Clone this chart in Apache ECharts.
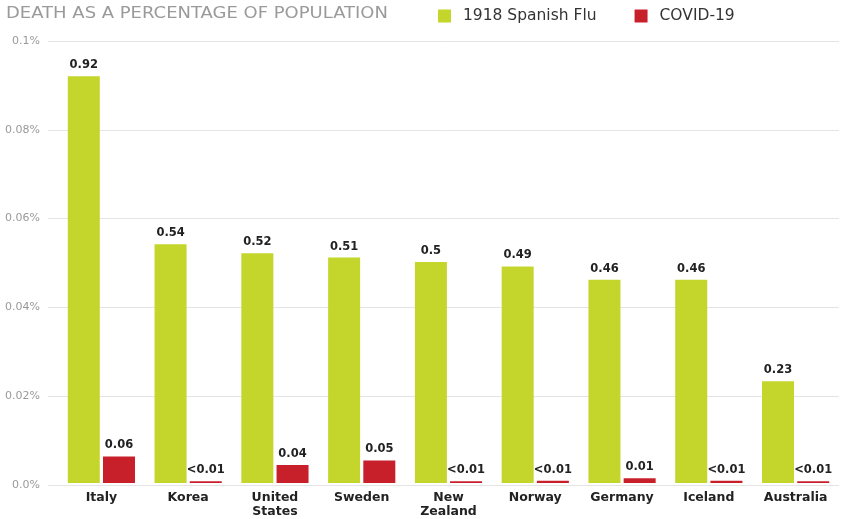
<!DOCTYPE html>
<html>
<head>
<meta charset="utf-8">
<script src="https://cdn.jsdelivr.net/npm/echarts@6/dist/echarts.min.js"></script>
<style>html,body{margin:0;padding:0;background:#fff;}#c{width:841px;height:519px;}</style>
</head>
<body>
<div id="c"></div>
<script>
var categories = ["Italy", "Korea", "United\nStates", "Sweden", "New\nZealand", "Norway", "Germany", "Iceland", "Australia"];
var fluValues = [0.092, 0.054, 0.052, 0.051, 0.050, 0.049, 0.046, 0.046, 0.023];
var covidValues = [0.006, 0.0004, 0.0041, 0.0051, 0.0004, 0.0005, 0.0011, 0.0005, 0.0004];
var fluLabels = ["0.92", "0.54", "0.52", "0.51", "0.5", "0.49", "0.46", "0.46", "0.23"];
var covidLabels = ["0.06", "<0.01", "0.04", "0.05", "<0.01", "<0.01", "0.01", "<0.01", "<0.01"];
var yTicks = ["0.0%", "0.02%", "0.04%", "0.06%", "0.08%", "0.1%"];
var titleText = "DEATH AS A PERCENTAGE OF POPULATION";

var FONT = "DejaVu Sans";
var chart = echarts.init(document.getElementById('c'), null, {renderer: 'canvas'});
var labelStyle = {show: true, position: 'top', distance: 5, fontFamily: FONT, fontSize: 11.5, fontWeight: 'bold', color: '#222'};
chart.setOption({
  animation: false,
  backgroundColor: '#fff',
  graphic: [{
    type: 'text', x: 6, y: 14, scaleX: 1.16, scaleY: 1,
    style: {text: titleText, fontFamily: FONT, fontSize: 15.5, fill: '#9a9a9a', textVerticalAlign: 'middle', textAlign: 'left'}
  }],
  legend: {
    left: 433, top: 3,
    itemWidth: 13, itemHeight: 13, itemGap: 38,
    icon: 'rect',
    textStyle: {fontFamily: FONT, fontSize: 15.5, color: '#333', padding: [0, 0, 0, 7]},
    data: ['1918 Spanish Flu', 'COVID-19']
  },
  grid: [
    {left: 58, right: 2, top: 41, bottom: 34},
    {left: 48, right: 2, top: 41, bottom: 34}
  ],
  xAxis: [
    {
      type: 'category', gridIndex: 0, data: categories,
      axisLine: {show: false}, axisTick: {show: false},
      axisLabel: {margin: 8, fontFamily: FONT, fontSize: 12.5, fontWeight: 'bold', color: '#222', lineHeight: 14, interval: 0}
    },
    {type: 'value', gridIndex: 1, show: false, min: 0, max: 1}
  ],
  yAxis: [
    {type: 'value', gridIndex: 0, min: 0, max: 0.1, interval: 0.02, show: false, splitLine: {show: false}},
    {
      type: 'value', gridIndex: 1, min: 0, max: 0.1, interval: 0.02,
      axisLine: {show: false}, axisTick: {show: false},
      splitLine: {show: true, lineStyle: {color: '#e4e4e4', width: 1}},
      axisLabel: {margin: 8, fontFamily: FONT, fontSize: 11, color: '#9a9a9a',
        formatter: function (v, i) { return yTicks[i]; }}
    }
  ],
  series: [
    {
      name: '1918 Spanish Flu', type: 'bar', xAxisIndex: 0, yAxisIndex: 0,
      data: fluValues, barWidth: 32, barGap: '10%',
      itemStyle: {color: '#c4d52c'},
      label: Object.assign({}, labelStyle, {formatter: function (p) { return fluLabels[p.dataIndex]; }})
    },
    {
      name: 'COVID-19', type: 'bar', xAxisIndex: 0, yAxisIndex: 0,
      data: covidValues, barWidth: 32, barGap: '10%',
      itemStyle: {color: '#c8202b'},
      label: Object.assign({}, labelStyle, {formatter: function (p) { return covidLabels[p.dataIndex]; }})
    }
  ]
});
</script>
</body>
</html>
